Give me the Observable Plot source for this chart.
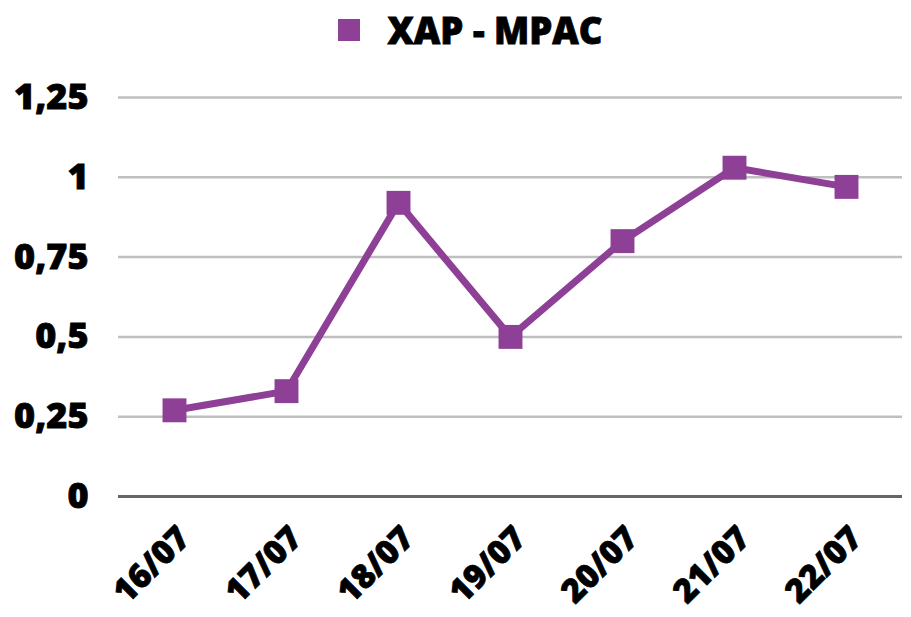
<!DOCTYPE html>
<html>
<head>
<meta charset="utf-8">
<script src="https://cdn.jsdelivr.net/npm/d3@7"></script>
<script src="https://cdn.jsdelivr.net/npm/@observablehq/plot@0.6"></script>
<style>
  body { margin: 0; background: #fff; font-family: "Open Sans", sans-serif; }
  #legend { height: 60px; display: flex; align-items: center; justify-content: center; font-weight: 800; font-size: 36.5px; color: #000; padding-left: 30px; box-sizing: border-box; -webkit-text-stroke: 0.8px #000; }
  #legend .sw { width: 22px; height: 22px; background: #8e3f96; margin-right: 27px; -webkit-text-stroke: 0; }
  #chart svg { display: block; }
  #chart svg g[aria-label$="tick label"] text { paint-order: stroke; stroke: #000; stroke-width: 0.8px; }
</style>
</head>
<body>
<div id="legend"><span class="sw"></span><span id="seriesName"></span></div>
<div id="chart"></div>
<script>
const seriesName = "XAP - MPAC";
const dates = ["16/07", "17/07", "18/07", "19/07", "20/07", "21/07", "22/07"];
const values = [0.27, 0.33, 0.92, 0.5, 0.8, 1.03, 0.97];
const yTicks = [0, 0.25, 0.5, 0.75, 1, 1.25];
const color = "#8e3f96";

document.getElementById("seriesName").textContent = seriesName;
const data = dates.map((d, i) => ({date: d, value: values[i]}));
const fmt = v => String(v).replace(".", ",");

const chart = Plot.plot({
  width: 911,
  height: 557,
  marginLeft: 118,
  marginRight: 9,
  marginTop: 37,
  marginBottom: 121,
  style: { fontFamily: "Open Sans", fontWeight: 800, fontSize: "36px", color: "#000", background: "#fff" },
  x: { type: "point", domain: dates, padding: 0.5, label: null, tickSize: 0 },
  y: { domain: [0, 1.25], ticks: yTicks, tickFormat: fmt, label: null, tickSize: 0, tickPadding: 30 },
  marks: [
    Plot.ruleY(yTicks.filter(t => t > 0), { stroke: "#bfbfbf", strokeWidth: 2.5 }),
    Plot.ruleY([0], { stroke: "#666666", strokeWidth: 3 }),
    Plot.axisX({ tickSize: 0, tickRotate: -45, tickPadding: 36, dx: 10, fontSize: 33, fontWeight: 800, label: null }),
    Plot.line(data, { x: "date", y: "value", stroke: color, strokeWidth: 7 }),
    Plot.dot(data, { x: "date", y: "value", symbol: "square", r: 13.5, fill: color, stroke: "none" })
  ]
});
document.getElementById("chart").appendChild(chart);
</script>
</body>
</html>
